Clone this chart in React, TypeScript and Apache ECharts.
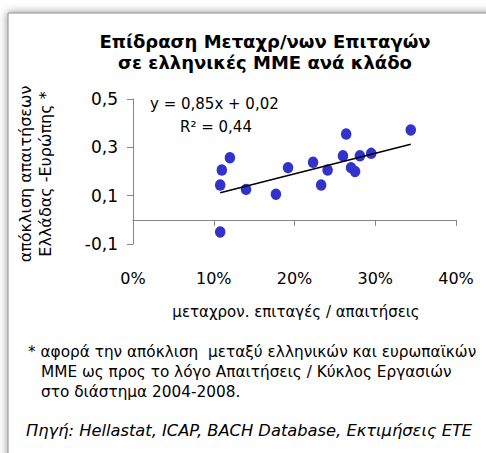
import React, { useEffect, useRef } from "react";
import * as echarts from "echarts";

const titleLines = ["Επίδραση Μεταχρ/νων Επιταγών", "σε ελληνικές ΜΜΕ ανά κλάδο"];
const yAxisTitle = ["απόκλιση απαιτήσεων", "Ελλάδας -Ευρώπης *"];
const xAxisTitle = "μεταχρον. επιταγές / απαιτήσεις";
const footnoteLines = [
  "* αφορά την απόκλιση  μεταξύ ελληνικών και ευρωπαϊκών",
  "ΜΜΕ ως προς το λόγο Απαιτήσεις / Κύκλος Εργασιών",
  "στο διάστημα 2004-2008.",
];
const sourceText = "Πηγή: Hellastat, ICAP, BACH Database, Εκτιμήσεις ΕΤΕ";
const equationText = "y = 0,85x + 0,02";
const r2Text = "R² = 0,44";

// sector data: x = post-dated cheques / receivables, y = receivables gap Greece-Europe
const xValues = [0.344, 0.264, 0.12, 0.11, 0.108, 0.14, 0.177, 0.192, 0.223, 0.233, 0.241, 0.26, 0.27, 0.275, 0.281, 0.295, 0.108];
const yValues = [0.372, 0.355, 0.257, 0.206, 0.144, 0.126, 0.106, 0.216, 0.238, 0.144, 0.206, 0.265, 0.216, 0.2, 0.265, 0.275, -0.05];

const trendSlope = 0.85;
const trendIntercept = 0.02;

const xTicks = [0, 0.1, 0.2, 0.3, 0.4];
const yTicks = [-0.1, 0.1, 0.3, 0.5];

const FONT = "DejaVu Sans";

export default function App() {
  const ref = useRef<HTMLDivElement>(null);
  useEffect(() => {
    document.body.style.margin = "0";
    const chart = echarts.init(ref.current!, null, { renderer: "svg" });
    const points = xValues.map((x, i) => [x, yValues[i]]);
    const xmin = Math.min(...xValues);
    const xmax = Math.max(...xValues);
    const trend = [
      [xmin, trendSlope * xmin + trendIntercept],
      [xmax, trendSlope * xmax + trendIntercept],
    ];
    const axisColor = "#868686";
    chart.setOption({
      animation: false,
      backgroundColor: "#ffffff",
      grid: { left: 133, right: 30, top: 99, bottom: 209, containLabel: false },
      xAxis: [
        {
          type: "value",
          position: "bottom",
          min: xTicks[0],
          max: xTicks[xTicks.length - 1],
          interval: 0.1,
          axisLine: { show: true, onZero: true, lineStyle: { color: axisColor, width: 1 } },
          axisTick: { show: true, inside: false, length: 6, lineStyle: { color: axisColor } },
          axisLabel: { show: false },
          splitLine: { show: false },
        },
        {
          type: "value",
          position: "bottom",
          min: xTicks[0],
          max: xTicks[xTicks.length - 1],
          interval: 0.1,
          axisLine: { show: false, onZero: false },
          axisTick: { show: false },
          axisLabel: {
            show: true,
            margin: 26,
            color: "#000",
            fontFamily: FONT,
            fontSize: 16,
            formatter: (v: number) => Math.round(v * 100) + "%",
          },
          splitLine: { show: false },
        },
      ],
      yAxis: {
        type: "value",
        min: yTicks[0],
        max: yTicks[yTicks.length - 1],
        interval: 0.2,
        axisLine: { show: true, onZero: false, lineStyle: { color: axisColor, width: 1 } },
        axisTick: { show: true, inside: false, length: 6, lineStyle: { color: axisColor } },
        axisLabel: {
          margin: 15,
          color: "#000",
          fontFamily: FONT,
          fontSize: 17,
          formatter: (v: number) => v.toFixed(1).replace(".", ","),
        },
        splitLine: { show: false },
      },
      series: [
        {
          type: "scatter",
          xAxisIndex: 0,
          data: points,
          symbol: "circle",
          symbolSize: [10.5, 11.5],
          itemStyle: { color: "#3333CC", opacity: 1 },
          z: 3,
        },
        {
          type: "line",
          xAxisIndex: 0,
          data: trend,
          symbol: "none",
          lineStyle: { color: "#000", width: 1.5 },
          z: 4,
        },
      ],
      graphic: [
        {
          type: "rect",
          shape: { x: 8, y: 13, width: 520, height: 480 },
          style: { fill: "#fff", stroke: "#8c8c8c", lineWidth: 1, shadowBlur: 8, shadowColor: "rgba(0,0,0,0.45)" },
          z: -10,
          silent: true,
        },
        {
          type: "text",
          x: 265,
          y: 41,
          style: { text: titleLines[0], font: `bold 18px '${FONT}'`, fill: "#000", textAlign: "center", textVerticalAlign: "middle" },
        },
        {
          type: "text",
          x: 265,
          y: 62,
          style: { text: titleLines[1], font: `bold 18px '${FONT}'`, fill: "#000", textAlign: "center", textVerticalAlign: "middle" },
        },
        {
          type: "text",
          x: 25,
          y: 174,
          rotation: Math.PI / 2,
          style: { text: yAxisTitle[0], font: `16px '${FONT}'`, fill: "#000", textAlign: "center", textVerticalAlign: "middle" },
        },
        {
          type: "text",
          x: 45,
          y: 174,
          rotation: Math.PI / 2,
          style: { text: yAxisTitle[1], font: `16px '${FONT}'`, fill: "#000", textAlign: "center", textVerticalAlign: "middle" },
        },
        {
          type: "text",
          x: 296,
          y: 312,
          style: { text: xAxisTitle, font: `15px '${FONT}'`, fill: "#000", textAlign: "center", textVerticalAlign: "middle" },
        },
        {
          type: "text",
          x: 150,
          y: 104,
          style: { text: equationText, font: `15px '${FONT}'`, fill: "#000", textAlign: "left", textVerticalAlign: "middle" },
        },
        {
          type: "text",
          x: 180,
          y: 127,
          style: { text: r2Text, font: `15px '${FONT}'`, fill: "#000", textAlign: "left", textVerticalAlign: "middle" },
        },
        {
          type: "text",
          x: 28,
          y: 352,
          style: { text: footnoteLines[0], font: `15.3px '${FONT}'`, fill: "#000", textAlign: "left", textVerticalAlign: "middle" },
        },
        {
          type: "text",
          x: 41,
          y: 372,
          style: { text: footnoteLines[1], font: `15.3px '${FONT}'`, fill: "#000", textAlign: "left", textVerticalAlign: "middle" },
        },
        {
          type: "text",
          x: 41,
          y: 392,
          style: { text: footnoteLines[2], font: `15.3px '${FONT}'`, fill: "#000", textAlign: "left", textVerticalAlign: "middle" },
        },
        {
          type: "text",
          x: 26,
          y: 430,
          style: { text: sourceText, font: `italic 16.3px '${FONT}'`, fill: "#000", textAlign: "left", textVerticalAlign: "middle" },
        },
      ],
    });
    return () => chart.dispose();
  }, []);
  return <div ref={ref} style={{ position: "fixed", left: 0, top: 0, width: 486, height: 453 }} />;
}
